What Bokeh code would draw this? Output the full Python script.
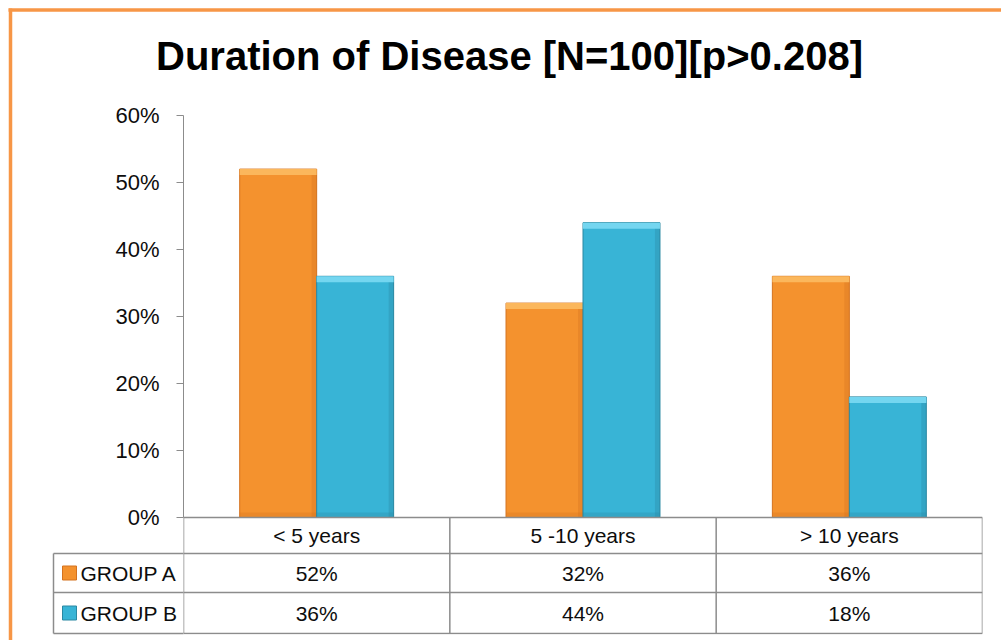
from bokeh.plotting import figure
from bokeh.models import (Range1d, FactorRange, FixedTicker, PrintfTickFormatter,
                          ColumnDataSource)
from bokeh.transform import dodge
from bokeh.embed import file_html
from bokeh.resources import INLINE
from bokeh.core.properties import value

# ---------------- data ----------------
title_text = "Duration of Disease [N=100][p>0.208]"
categories = ["< 5 years", "5 -10 years", "> 10 years"]
series_names = ["GROUP A", "GROUP B"]
group_a = [52, 32, 36]
group_b = [36, 44, 18]
y_ticks = [0, 10, 20, 30, 40, 50, 60]

# ---------------- layout / style ----------------
W, H = 1001, 640
FRAME_L, FRAME_R, FRAME_T, FRAME_B = 183, 982, 115, 634
ZERO_PX = 517
PX_PER_Y = (ZERO_PX - FRAME_T) / 60.0
PX_PER_X = (FRAME_R - FRAME_L) / 3.0
FONT = "'Liberation Sans', Arial, sans-serif"
ORANGE, ORANGE_TOP, ORANGE_DARK = "#F4922E", "#FBB75C", "#D4721F"
TEAL, TEAL_TOP, TEAL_DARK = "#38B4D6", "#74D6F0", "#2A88A2"
GRID = "#8C8C8C"
TXT = "#0D0D0D"


def py(px):
    return (ZERO_PX - px) / PX_PER_Y


def pxx(px):
    return (px - FRAME_L) / PX_PER_X


row_edges = [py(v) for v in (517, 553, 592, 633)]
row_mid = [(row_edges[i] + row_edges[i + 1]) / 2 for i in range(3)]

p = figure(width=W, height=H, output_backend="svg", toolbar_location=None,
           x_range=FactorRange(*categories, range_padding=0),
           y_range=Range1d(py(FRAME_B), 60),
           x_axis_location=None, title=None,
           min_border_left=FRAME_L, min_border_right=W - FRAME_R,
           min_border_top=FRAME_T, min_border_bottom=H - FRAME_B)
p.grid.visible = False
p.outline_line_color = None
p.background_fill_color = "white"
p.border_fill_color = "white"

ax = p.yaxis[0]
ax.ticker = FixedTicker(ticks=y_ticks)
ax.formatter = PrintfTickFormatter(format="%d%%")
ax.bounds = (0, 60)
ax.axis_line_color = GRID
ax.major_tick_line_color = GRID
ax.major_tick_out = 7
ax.major_tick_in = 0
ax.minor_tick_line_color = None
ax.major_label_standoff = 17
ax.major_label_text_font = FONT
ax.major_label_text_font_size = "22px"
ax.major_label_text_color = TXT

# ---------------- bars ----------------
src = ColumnDataSource(dict(cat=categories, a=group_a, b=group_b,
                            a_lab=[f"{v}%" for v in group_a],
                            b_lab=[f"{v}%" for v in group_b]))
BW = 0.289
TOP_H = 6 / PX_PER_Y
BOT_H = 5 / PX_PER_Y
SIDE = 5 / PX_PER_X
for col, off, main, top, dark in (("a", -BW / 2, ORANGE, ORANGE_TOP, ORANGE_DARK),
                                  ("b", BW / 2, TEAL, TEAL_TOP, TEAL_DARK)):
    # bar body
    p.vbar(x=dodge("cat", off, range=p.x_range), top=col, bottom=0, width=BW,
           source=src, fill_color=main, line_color=dark, line_width=1)
    # right-hand bevel (darker)
    p.vbar(x=dodge("cat", off + BW / 2 - SIDE / 2, range=p.x_range), top=col, bottom=0,
           width=SIDE, source=src, fill_color=dark, fill_alpha=0.35, line_color=None)
    # bottom bevel (darker)
    p.vbar(x=dodge("cat", off, range=p.x_range), top=BOT_H, bottom=0, width=BW,
           source=src, fill_color=dark, fill_alpha=0.3, line_color=None)
    # top bevel (lighter)
    p.vbar(x=dodge("cat", off, range=p.x_range), top=col, width=BW,
           bottom=dodge(col, -TOP_H), source=src, fill_color=top, line_color=None)

# ---------------- data table ----------------
p.segment(x0=[0, 0, 0, 0], x1=[3, 3, 3, 3], y0=row_edges, y1=row_edges,
          line_color=GRID, line_width=1.5)
p.segment(x0=[0, 1, 2, 3], x1=[0, 1, 2, 3], y0=[0] * 4, y1=[row_edges[-1]] * 4,
          line_color=GRID, line_width=1.5)

for ycol, field in ((row_mid[0], "cat"), (row_mid[1], "a_lab"), (row_mid[2], "b_lab")):
    p.text(x="cat", y=ycol, text=field, source=src, text_align="center",
           text_baseline="middle", text_font=value(FONT), text_font_size="21px",
           text_color=TXT)

# legend column of the table (left of the frame), drawn on the overlay level
LX0, LX1 = pxx(53), 0
p.segment(x0=[LX0] * 3 + [LX0], x1=[LX1] * 3 + [LX0],
          y0=row_edges[1:] + [row_edges[1]], y1=row_edges[1:] + [row_edges[3]],
          line_color=GRID, line_width=1.5, level="overlay")
p.rect(x=[pxx(69)] * 2, y=row_mid[1:], width=14 / PX_PER_X, height=14 / PX_PER_Y,
       fill_color=[ORANGE, TEAL], line_color=[ORANGE_DARK, TEAL_DARK], level="overlay")
p.text(x=[pxx(80)] * 2, y=row_mid[1:], text=series_names, text_baseline="middle",
       text_font=value(FONT), text_font_size="21px", text_color=TXT, level="overlay")

# title
p.text(x=[pxx(509)], y=[py(55)], text=[title_text], text_align="center",
       text_baseline="middle", text_font=value(FONT), text_font_style="bold",
       text_font_size="40px", text_color="#000000", level="overlay")

# orange outer border (top and left edges; right/bottom fall outside the picture)
p.segment(x0=[pxx(10), pxx(8)], x1=[pxx(10), pxx(1100)],
          y0=[py(8), py(9.5)], y1=[py(800), py(9.5)],
          line_color="#F79646", line_width=3.5, level="overlay")

open("out.html", "w").write(file_html(p, INLINE))
